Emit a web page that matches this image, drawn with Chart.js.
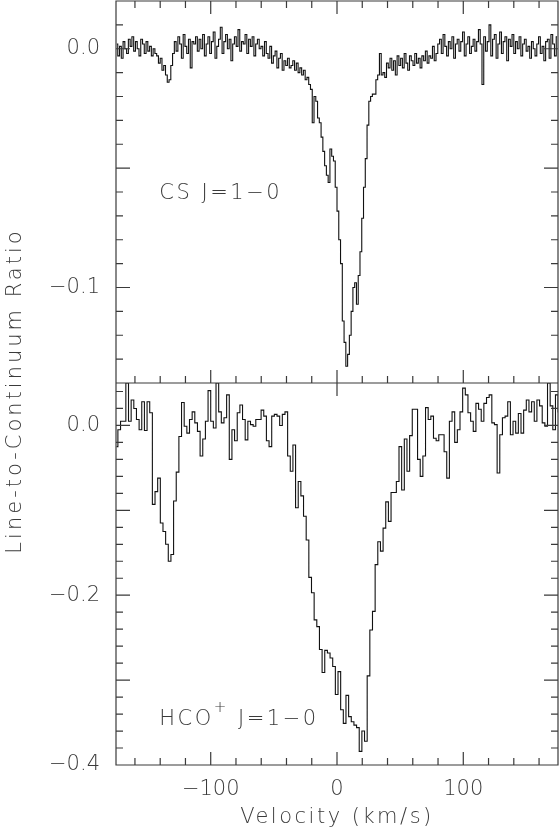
<!DOCTYPE html>
<html lang="en">
<head>
<meta charset="utf-8">
<title>CS and HCO+ absorption spectra</title>
<script src="https://cdn.jsdelivr.net/npm/chart.js@4.4.1/dist/chart.umd.min.js"></script>
<style>
  html, body { margin: 0; padding: 0; background: #fff; }
  #spectra { display: block; }
</style>
</head>
<body>
<canvas id="spectra" width="559" height="832"></canvas>
<script>
// CS J=1-0 : channel grid and line-to-continuum ratio
const csStart = -174.3;
const csWidth = 1.4;
const csRatio = [
  // -174 .. -144
  0.002, -0.003, 0.001, -0.004, 0.003, 0.000, -0.002, 0.004, 0.001, 0.005, -0.001, 0.003,
  0.000, -0.003, 0.004, 0.002, -0.002, 0.003, -0.001, 0.001, -0.003, 0.000, -0.002,
  // small dip near -134
  -0.003, -0.006, -0.004, -0.009, -0.007, -0.011, -0.014, -0.013, -0.007, -0.002,
  // -128 .. -61
  0.003, -0.001, 0.005, 0.002, -0.004, 0.006, 0.001, -0.002, 0.004, -0.008, 0.003, 0.002,
  0.005, -0.001, 0.004, 0.000, 0.006, -0.003, 0.002, 0.005, -0.002, 0.003, 0.007, -0.004,
  0.001, 0.004, 0.009, -0.002, 0.003, 0.006, 0.000, 0.004, -0.005, 0.002, 0.005, 0.001,
  0.008, -0.001, 0.003, 0.002, 0.006, -0.002, 0.004, 0.001, 0.005, -0.003, 0.002, 0.004, 0.000,
  // -60 .. -37
  0.001, -0.003, 0.003, -0.002, -0.004, 0.001, -0.006, -0.003, -0.001, -0.008, -0.004, -0.002,
  -0.009, -0.005, -0.007, -0.004, -0.008,
  // main absorption -36 .. 36
  -0.007, -0.005, -0.009, -0.006, -0.010, -0.008, -0.011, -0.009, -0.013, -0.012, -0.015, -0.017,
  -0.031, -0.020, -0.022, -0.029, -0.031, -0.037, -0.043, -0.049, -0.053, -0.056, -0.042, -0.045,
  -0.047, -0.058, -0.068, -0.080, -0.090, -0.114, -0.123, -0.133, -0.128, -0.120, -0.110, -0.100,
  -0.098, -0.107, -0.095, -0.085, -0.071, -0.058, -0.046, -0.032, -0.022, -0.020, -0.019, -0.019,
  -0.013, -0.011, -0.002, -0.011,
  // 37 .. 80
  -0.010, -0.012, -0.006, -0.008, -0.004, -0.009, -0.005, -0.011, -0.003, -0.007, -0.004, -0.008,
  -0.002, -0.006, -0.009, -0.003, -0.005, -0.007, -0.002, -0.006, -0.004, -0.008, -0.003, -0.005,
  -0.001, -0.006, -0.003, -0.004, 0.001, -0.005, -0.002, 0.002,
  // 82 .. 174
  0.004, -0.002, 0.006, 0.001, -0.003, 0.003, 0.000, 0.005, -0.004, 0.002, 0.004, -0.001,
  0.003, 0.007, -0.003, 0.002, 0.005, -0.002, 0.001, 0.004, -0.001, 0.003, 0.008, 0.002,
  -0.015, 0.005, -0.001, 0.003, 0.010, -0.003, 0.004, 0.006, -0.004, 0.002, 0.007, -0.002,
  0.003, 0.005, -0.005, 0.004, 0.001, 0.006, -0.002, 0.003, 0.000, 0.005, -0.003, 0.002,
  0.004, -0.001, 0.001, -0.004, 0.003, 0.000, -0.003, 0.002, 0.005, -0.002, 0.001, -0.005,
  0.003, 0.004, -0.004, 0.006, 0.002, -0.003, 0.005
];

// HCO+ J=1-0
const hcoStart = -174.55;
const hcoWidth = 2.1;
const hcoRatio = [
  -0.025, -0.005, 0.005, 0.005, 0.050, 0.005, 0.030, 0.020, 0.007, -0.005, 0.028, -0.006,
  0.028, 0.015, -0.093, -0.078, -0.062, -0.115, -0.125, -0.140, -0.160, -0.152, -0.089, -0.055,
  -0.013, 0.027, -0.001, -0.009, 0.007, 0.016, 0.003, -0.007, -0.036, -0.016, 0.005, 0.041,
  0.005, -0.003, 0.050, 0.016, 0.003, 0.009, 0.036, -0.040, -0.005, -0.018, 0.015, 0.024,
  0.007, -0.017, 0.005, 0.001, -0.001, 0.007, 0.007, 0.018, 0.011, -0.018, -0.025, 0.011,
  0.013, 0.011, 0.000, 0.013, 0.016, -0.036, -0.054, -0.023, -0.097, -0.066, -0.083, -0.107,
  -0.135, -0.179, -0.197, -0.229, -0.237, -0.264, -0.291, -0.265, -0.268, -0.274, -0.284, -0.317,
  -0.290, -0.335, -0.351, -0.318, -0.343, -0.349, -0.353, -0.356, -0.384, -0.360, -0.372, -0.295,
  -0.241, -0.219, -0.164, -0.137, -0.148, -0.121, -0.090, -0.113, -0.079, -0.079, -0.066, -0.025,
  -0.076, -0.016, -0.054, -0.012, 0.019, 0.019, -0.040, -0.060, -0.036, 0.021, 0.007, 0.011,
  -0.015, -0.018, -0.011, -0.011, -0.031, -0.062, 0.005, 0.016, -0.020, -0.005, 0.016, 0.044,
  0.036, 0.015, 0.005, -0.007, 0.026, 0.019, 0.005, 0.026, 0.033, 0.036, 0.003, 0.001,
  -0.056, -0.011, 0.009, 0.011, 0.028, -0.011, 0.005, -0.009, 0.014, -0.009, 0.018, 0.030,
  0.016, 0.028, 0.005, 0.030, 0.023, 0.003, -0.001, 0.050, 0.023, -0.005, 0.036, 0.016
];

// labelled ticks
const velocityLabels = [-100, 0, 100];
const csLabels = [0, -0.1];
const hcoLabels = [0, -0.2, -0.4];

const csVelocity = csRatio.map((_, i) => csStart + i * csWidth);
const hcoVelocity = hcoRatio.map((_, i) => hcoStart + i * hcoWidth);

const family = "'DejaVu Sans', 'Liberation Sans', sans-serif";
const weight = 200;
const ink = "#3a3a3a";

function minus(text) {
  return String(text).replace("-", "\u2212");
}

const panels = [
  { id: "yCS", minor: 0.01, every: 5, topTicks: true },
  { id: "yHCO", minor: 0.02, every: 5, topTicks: false }
];

const frame = {
  id: "frame",
  afterDatasetsDraw(chart) {
    const ctx = chart.ctx;
    const xs = chart.scales.x;
    ctx.save();
    ctx.strokeStyle = ink;
    ctx.lineWidth = 1.2;
    ctx.beginPath();
    panels.forEach(p => {
      const ys = chart.scales[p.id];
      const top = ys.top;
      const bottom = ys.bottom;
      ctx.rect(xs.left, top, xs.right - xs.left, bottom - top);

      const lo = Math.ceil(ys.min / p.minor - 1e-6);
      const hi = Math.floor(ys.max / p.minor + 1e-6);
      for (let n = lo; n <= hi; n++) {
        const y = ys.getPixelForValue(n * p.minor);
        if (y <= top + 1 || y >= bottom - 1) continue;
        const len = n % p.every === 0 ? 14 : 7;
        ctx.moveTo(xs.left, y);
        ctx.lineTo(xs.left + len, y);
        ctx.moveTo(xs.right, y);
        ctx.lineTo(xs.right - len, y);
      }

      const first = Math.ceil(xs.min / 20);
      const last = Math.floor(xs.max / 20);
      for (let n = first; n <= last; n++) {
        const x = xs.getPixelForValue(n * 20);
        const len = n % 5 === 0 ? 13 : 7;
        ctx.moveTo(x, bottom);
        ctx.lineTo(x, bottom - len);
        if (p.topTicks || n === 0) {
          ctx.moveTo(x, top);
          ctx.lineTo(x, top + len);
        }
      }
    });
    ctx.stroke();
    ctx.restore();
  },
  afterDraw(chart) {
    const ctx = chart.ctx;
    const xs = chart.scales.x;
    const cs = chart.scales.yCS;
    const hco = chart.scales.yHCO;
    const big = weight + " 21px " + family;
    ctx.save();
    ctx.fillStyle = ink;
    ctx.font = big;
    ctx.textBaseline = "middle";

    ctx.letterSpacing = "2.5px";
    ctx.textAlign = "center";
    ctx.fillText("Velocity (km/s)", (xs.left + xs.right) / 2, xs.bottom - 14);

    ctx.textAlign = "left";
    ctx.fillText("CS J=1\u22120", xs.getPixelForValue(-140.7), cs.getPixelForValue(-0.0605));

    const hx = xs.getPixelForValue(-140.7);
    const hy = hco.getPixelForValue(-0.347);
    ctx.fillText("HCO", hx, hy);
    const hw = ctx.measureText("HCO").width;
    ctx.font = weight + " 15px " + family;
    ctx.fillText("+", hx + hw, hy - 12);
    const pw = ctx.measureText("+").width;
    ctx.font = big;
    ctx.fillText(" J=1\u22120", hx + hw + pw, hy);

    ctx.letterSpacing = "3px";
    ctx.translate(16, (cs.top + hco.bottom) / 2 + 8);
    ctx.rotate(-Math.PI / 2);
    ctx.textAlign = "center";
    ctx.fillText("Line-to-Continuum Ratio", 0, 0);
    ctx.restore();
  }
};

const lineStyle = {
  borderColor: "#111",
  borderWidth: 1.1,
  pointRadius: 0,
  fill: false,
  stepped: "middle",
  tension: 0
};

function yAxis(min, max, labels) {
  return {
    type: "linear",
    position: "left",
    stack: "panels",
    stackWeight: 1,
    min: min,
    max: max,
    grid: { display: false, drawTicks: false },
    border: { display: false },
    ticks: {
      padding: 16,
      color: ink,
      font: { family: family, size: 21, weight: weight },
      callback: value => (value === 0 ? "0.0" : minus(value.toFixed(1)))
    },
    afterBuildTicks: scale => {
      scale.ticks = labels.map(v => ({ value: v }));
    },
    afterFit: scale => {
      scale.width = 116;
      scale.paddingTop = 0;
      scale.paddingBottom = 0;
    }
  };
}

new Chart(document.getElementById("spectra"), {
  type: "line",
  data: {
    datasets: [
      {
        label: "CS J=1-0",
        data: csVelocity.map((v, i) => ({ x: v, y: csRatio[i] })),
        yAxisID: "yCS",
        ...lineStyle
      },
      {
        label: "HCO+ J=1-0",
        data: hcoVelocity.map((v, i) => ({ x: v, y: hcoRatio[i] })),
        yAxisID: "yHCO",
        ...lineStyle
      }
    ]
  },
  options: {
    responsive: false,
    animation: false,
    devicePixelRatio: 1,
    events: [],
    layout: { padding: { top: 1, right: 1, left: 0, bottom: 0 } },
    plugins: {
      legend: { display: false },
      tooltip: { enabled: false }
    },
    scales: {
      x: {
        type: "linear",
        position: "bottom",
        min: -175,
        max: 175,
        grid: { display: false, drawTicks: false },
        border: { display: false },
        ticks: {
          padding: 12,
          autoSkip: false,
          maxRotation: 0,
          color: ink,
          font: { family: family, size: 21, weight: weight },
          callback: value => minus(value)
        },
        afterBuildTicks: scale => {
          scale.ticks = velocityLabels.map(v => ({ value: v }));
        },
        afterFit: scale => {
          scale.height = 67;
          scale.paddingLeft = 0;
          scale.paddingRight = 0;
        }
      },
      // the stack is filled from the bottom up
      yHCO: yAxis(-0.4, 0.05, hcoLabels),
      yCS: yAxis(-0.14, 0.02, csLabels)
    }
  },
  plugins: [frame]
});
</script>
</body>
</html>
